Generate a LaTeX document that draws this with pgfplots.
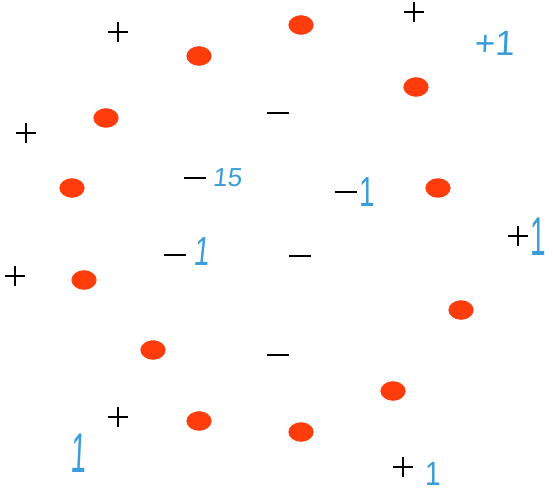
\documentclass[border=0pt]{standalone}
\usepackage{pgfplots}
\pgfplotsset{compat=1.18}
\usepackage{fontspec}
\setmainfont{Liberation Sans}
\newfontfamily\hand{Liberation Sans}
\definecolor{dotred}{RGB}{255,60,12}
\definecolor{penblue}{RGB}{58,156,216}
\begin{document}
\begin{tikzpicture}
\begin{axis}[hide axis, scale only axis, width=553pt, height=497pt,
  xmin=0, xmax=553, ymin=0, ymax=497, y dir=reverse, clip=false]
% red points (class o)
\addplot[only marks, mark=*, mark size=9.5pt, color=dotred,
  mark options={xscale=1.3, fill=dotred, draw=none}] coordinates {
  (199,56) (301,25) (416,87) (106,118) (72,188) (438,188)
  (84,280) (461,310) (153,350) (393,391) (199,421) (301,432)};
% plus points
\addplot[only marks, mark=+, mark size=10pt, color=black,
  every mark/.append style={line width=2.4pt}] coordinates {
  (118,32) (414,12) (26,133) (15,276) (518,236) (118,417) (403,467)};
% minus points
\addplot[only marks, mark=-, mark size=11pt, color=black,
  every mark/.append style={line width=2.6pt}] coordinates {
  (278,113) (195,178) (346,192) (175,255) (300,256) (278,355)};
% handwritten annotations
\node[text=penblue, inner sep=0, font=\hand\fontsize{35}{35}\selectfont, xslant=0.05] at (axis cs:495,43) {+1};
\node[text=penblue, inner sep=0, font=\hand\fontsize{26}{26}\selectfont, xslant=0.1] at (axis cs:228,178) {15};
\node[text=penblue, inner sep=0, font=\hand\fontsize{28}{28}\selectfont, yscale=1.5] at (axis cs:367,192) {1};
\node[text=penblue, inner sep=0, font=\hand\fontsize{28}{28}\selectfont, yscale=1.45, xslant=0.15] at (axis cs:203,252) {1};
\node[text=penblue, inner sep=0, font=\hand\fontsize{28}{28}\selectfont, yscale=1.95] at (axis cs:538,237) {1};
\node[text=penblue, inner sep=0, font=\hand\fontsize{28}{28}\selectfont, yscale=2.0, xslant=0.1] at (axis cs:79,453) {1};
\node[text=penblue, inner sep=0, font=\hand\fontsize{28}{28}\selectfont, yscale=1.2] at (axis cs:433,474) {1};
\end{axis}
\pgfresetboundingbox
\path[use as bounding box] (current axis.south west) rectangle (current axis.north east);
\end{tikzpicture}
\end{document}
